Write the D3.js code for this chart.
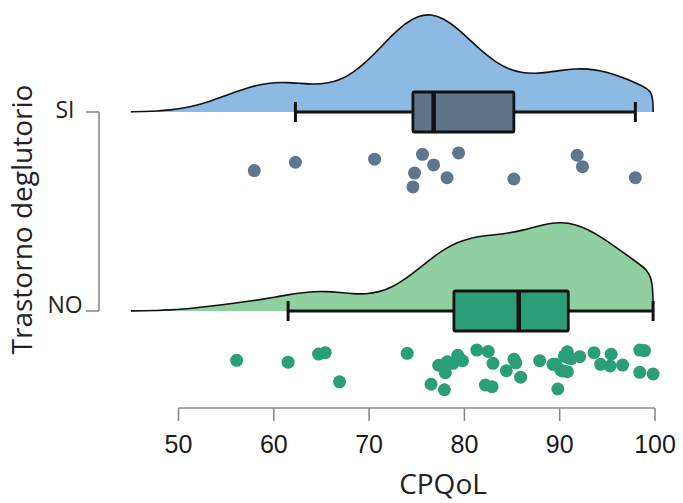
<!DOCTYPE html>
<html>
<head>
<meta charset="utf-8">
<script src="https://cdn.jsdelivr.net/npm/d3@7"></script>
<style>
  html, body { margin: 0; padding: 0; background: #ffffff; }
  svg { display: block; }
</style>
</head>
<body>
<svg id="chart" width="683" height="503"></svg>
<script>
// ---------------- DATA ----------------
const categories = ["SI", "NO"];
const xTicks = [50, 60, 70, 80, 90, 100];
const xTitle = "CPQoL";
const yTitle = "Trastorno deglutorio";

// individual CPQoL scores
const siValues = [57.95, 62.27, 70.58, 75.60, 79.39, 76.77, 74.77, 78.18, 74.60, 85.19, 91.83, 92.39, 97.94];
const siJitter = [-0.02, -0.46, -0.62, -0.88, -0.95, -0.32, 0.11, 0.35, 0.84, 0.42, -0.83, -0.23, 0.35];

const noValues = [56.1, 61.5, 64.7, 65.4, 66.9, 74.0, 76.5, 77.9, 77.3, 78.2, 78.0, 78.8, 79.3, 79.8,
                  81.3, 82.5, 83.0, 82.2, 82.9, 84.4, 85.2, 85.4, 85.9, 87.9, 89.3, 89.8, 90.1, 90.8,
                  90.7, 90.8, 92.1, 93.6, 94.3, 95.3, 95.4, 96.6, 98.4, 98.9, 98.4, 99.8,
                  89.6, 90.3, 90.5, 91.2];
const noJitter = [-0.51, -0.41, -0.84, -0.91, 0.62, -0.88, 0.75, 1.04, -0.25, -0.44, 0.14, -0.35, -0.77, -0.49,
                  -1.05, -0.98, -0.35, 0.79, 0.88, 0.04, -0.56, -0.38, 0.38, -0.49, -0.30, 1.0, 0.0, -0.96,
                  -0.67, 0.09, -0.70, -0.91, -0.30, -0.21, -0.83, -0.26, -1.05, -1.02, 0.12, 0.21,
                  -0.30, 0.05, -0.75, -0.60];

// box statistics: [lower whisker, Q1, median, Q3, upper whisker]
const siBox = [62.27, 74.60, 76.77, 85.19, 97.94];
const noBox = [61.5, 78.9, 85.7, 90.9, 99.8];

const densityRange = [45, 99.8];

// ---------------- DRAW ----------------
const svg = d3.select("#chart");
const colors = {
  SI: { dens: "#8dbae2", box: "#5f7589", pt: "#5e7690" },
  NO: { dens: "#90cf9f", box: "#2a9e78", pt: "#2a9e78" }
};
const groups = [
  { key: "SI", values: siValues, jitter: siJitter, box: siBox },
  { key: "NO", values: noValues, jitter: noJitter, box: noBox }
];

const x = d3.scaleLinear().domain([50, 100]).range([178.5, 655]);
const y = d3.scalePoint().domain(categories).range([112, 311]);
const jit = d3.scaleLinear().domain([-1, 1]).range([40, 78]);

// KDE (gaussian kernel, bw.nrd0)
function bwNrd0(v) {
  const s = v.slice().sort(d3.ascending);
  const sd = d3.deviation(s);
  const iqr = d3.quantile(s, 0.75) - d3.quantile(s, 0.25);
  return 0.9 * Math.min(sd, iqr / 1.34) * Math.pow(s.length, -0.2);
}
function kde(v, bw, t) {
  const c = 1 / (v.length * bw * Math.sqrt(2 * Math.PI));
  return c * d3.sum(v, d => Math.exp(-0.5 * ((t - d) / bw) ** 2));
}
const [lo, hi] = densityRange;
const nStep = 40;
groups.forEach(g => {
  const bw = bwNrd0(g.values);
  const pts = [];
  for (let i = 0; i <= nStep; i++) {
    const t = lo + (hi - lo) * i / nStep;
    pts.push([t, kde(g.values, bw, t)]);
  }
  pts.push([hi, 0]);
  g.dens = pts;
});
const maxD = d3.max(groups, g => d3.max(g.dens, d => d[1]));
const h = d3.scaleLinear().domain([0, maxD]).range([0, 98]);

groups.forEach(g => {
  const base = y(g.key);
  const c = colors[g.key];
  const area = d3.area().curve(d3.curveBasis)
    .x(d => x(d[0])).y0(base).y1(d => base - h(d[1]));
  const line = d3.line().curve(d3.curveBasis)
    .x(d => x(d[0])).y(d => base - h(d[1]));
  svg.append("path").attr("d", area(g.dens)).attr("fill", c.dens);
  svg.append("path").attr("d", line(g.dens)).attr("fill", "none")
    .attr("stroke", "#111").attr("stroke-width", 1.6);

  // whiskers
  const [wl, q1, med, q3, wh] = g.box;
  svg.append("line").attr("x1", x(wl)).attr("x2", x(wh)).attr("y1", base).attr("y2", base)
    .attr("stroke", "#111").attr("stroke-width", 3);
  [wl, wh].forEach(v => {
    svg.append("line").attr("x1", x(v)).attr("x2", x(v)).attr("y1", base - 10).attr("y2", base + 10)
      .attr("stroke", "#111").attr("stroke-width", 3);
  });
  // box
  svg.append("rect").attr("x", x(q1)).attr("y", base - 20)
    .attr("width", x(q3) - x(q1)).attr("height", 40)
    .attr("rx", 1.5)
    .attr("fill", c.box).attr("stroke", "#111").attr("stroke-width", 2.8)
    .attr("stroke-linejoin", "round");
  svg.append("line").attr("x1", x(med)).attr("x2", x(med)).attr("y1", base - 20).attr("y2", base + 20)
    .attr("stroke", "#111").attr("stroke-width", 4.5);

  // points
  svg.append("g").selectAll("circle").data(g.values).join("circle")
    .attr("cx", d => x(d))
    .attr("cy", (d, i) => base + jit(g.jitter[i]))
    .attr("r", 6.5)
    .attr("fill", c.pt);
});

// x axis
const axisY = 408;
const xAxis = svg.append("g");
xAxis.append("line").attr("x1", x(50)).attr("x2", x(100)).attr("y1", axisY).attr("y2", axisY)
  .attr("stroke", "#8a8a8a").attr("stroke-width", 1.6);
xAxis.selectAll("line.tick").data(xTicks).join("line").attr("class", "tick")
  .attr("x1", d => x(d)).attr("x2", d => x(d)).attr("y1", axisY).attr("y2", axisY + 13)
  .attr("stroke", "#8a8a8a").attr("stroke-width", 1.6);
xAxis.selectAll("text").data(xTicks).join("text")
  .attr("x", d => x(d)).attr("y", 453)
  .attr("text-anchor", "middle")
  .attr("font-family", "'Liberation Sans', Arial, sans-serif")
  .attr("font-size", 25).attr("fill", "#1a1a1a")
  .text(d => d);
svg.append("text").attr("x", 443).attr("y", 494).attr("text-anchor", "middle")
  .attr("font-family", "'Open Sans', sans-serif").attr("font-size", 28).attr("fill", "#222")
  .text(xTitle);

// y axis
const yAxisX = 99;
svg.append("line").attr("x1", yAxisX).attr("x2", yAxisX).attr("y1", y("SI")).attr("y2", y("NO"))
  .attr("stroke", "#8a8a8a").attr("stroke-width", 1.6);
svg.selectAll("line.ytick").data(categories).join("line").attr("class", "ytick")
  .attr("x1", yAxisX - 13).attr("x2", yAxisX).attr("y1", d => y(d)).attr("y2", d => y(d))
  .attr("stroke", "#8a8a8a").attr("stroke-width", 1.6);
const labelDy = { SI: 6, NO: 2 };
svg.selectAll("text.ylab").data(categories).join("text").attr("class", "ylab")
  .attr("x", 65).attr("y", d => y(d) + labelDy[d])
  .attr("text-anchor", "middle")
  .attr("font-family", "'Open Sans', sans-serif").attr("font-size", 23).attr("fill", "#222")
  .text(d => d);
svg.append("text")
  .attr("transform", "translate(32,219.5) rotate(-90)")
  .attr("text-anchor", "middle")
  .attr("font-family", "'Open Sans', sans-serif").attr("font-size", 28).attr("fill", "#222")
  .text(yTitle);
</script>
</body>
</html>
